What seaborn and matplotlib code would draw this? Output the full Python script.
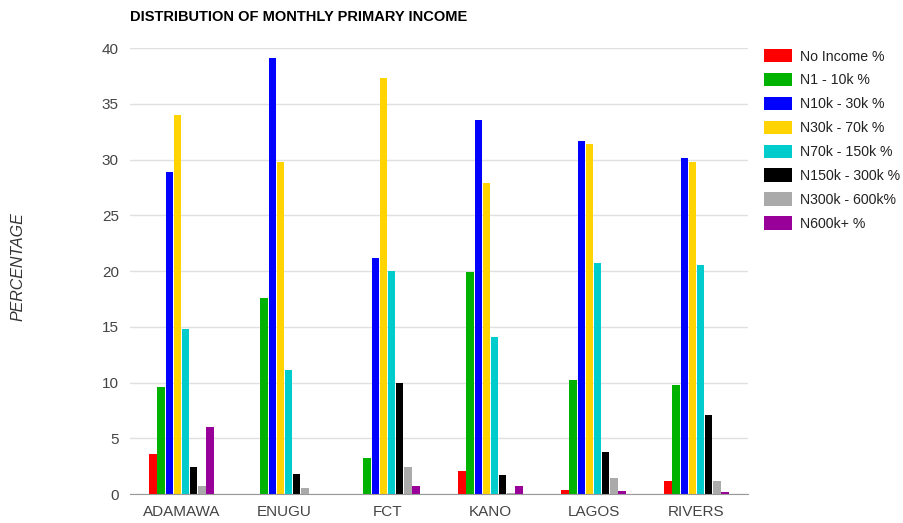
import pandas as pd
import matplotlib.pyplot as plt
import seaborn as sns

# data
states = ['ADAMAWA', 'ENUGU', 'FCT', 'KANO', 'LAGOS', 'RIVERS']
bands = ['No Income %', 'N1 - 10k %', 'N10k - 30k %', 'N30k - 70k %',
         'N70k - 150k %', 'N150k - 300k %', 'N300k - 600k%', 'N600k+ %']
no_income = [3.6, 0.0, 0.0, 2.1, 0.4, 1.2]
n1_10k = [9.6, 17.6, 3.2, 19.9, 10.2, 9.8]
n10_30k = [28.9, 39.1, 21.2, 33.5, 31.7, 30.1]
n30_70k = [34.0, 29.8, 37.3, 27.9, 31.4, 29.8]
n70_150k = [14.8, 11.1, 20.0, 14.1, 20.7, 20.5]
n150_300k = [2.4, 1.8, 10.0, 1.7, 3.8, 7.1]
n300_600k = [0.7, 0.5, 2.4, 0.1, 1.4, 1.2]
n600k = [6.0, 0.0, 0.7, 0.7, 0.3, 0.15]
colors = ['#ff0000', '#00b200', '#0000ff', '#ffd400',
          '#00cccc', '#000000', '#aaaaaa', '#990099']

series = [no_income, n1_10k, n10_30k, n30_70k, n70_150k, n150_300k, n300_600k, n600k]
rows = []
for band, vals in zip(bands, series):
    for st, v in zip(states, vals):
        rows.append({'State': st, 'Band': band, 'Value': v})
df = pd.DataFrame(rows)

sns.set_style('white')
plt.rcParams['font.family'] = ['Liberation Sans', 'DejaVu Sans']

fig = plt.figure(figsize=(9.04, 5.23), dpi=100, facecolor='white')
ax = fig.add_axes([130 / 904, 0.0554, 618 / 904, 0.8528])

sns.barplot(data=df, x='State', y='Value', hue='Band', hue_order=bands,
            order=states, palette=colors, width=0.63, gap=0.06,
            saturation=1, edgecolor='none', ax=ax, legend=True)

ax.set_ylim(0, 40)
ax.set_yticks(range(0, 41, 5))
ax.set_xlim(-0.5, len(states) - 0.5)
ax.grid(axis='y', color='#e0e0e0', linewidth=1)
ax.set_axisbelow(True)
for s in ['top', 'right', 'left']:
    ax.spines[s].set_visible(False)
ax.spines['bottom'].set_color('#999999')
ax.tick_params(axis='both', length=0, labelsize=11, colors='#444444', pad=8)
ax.tick_params(axis='x', pad=8)
ax.set_xlabel('')
ax.set_ylabel('')

fig.text(0.02, 0.49, 'PERCENTAGE', rotation=90, style='italic', fontsize=11.5,
         color='#333333', ha='center', va='center')
fig.text(130 / 904, 1 - 17 / 523, 'DISTRIBUTION OF MONTHLY PRIMARY INCOME', fontsize=10.5,
         fontweight='bold', color='black', ha='left', va='center')

handles, labels = ax.get_legend_handles_labels()
ax.get_legend().remove()
fig.legend(handles, labels, loc='upper left', bbox_to_anchor=(764 / 904, 1 - 49 / 523),
           frameon=False, fontsize=10.2, handlelength=2.0, handleheight=1.08,
           handletextpad=0.55, labelspacing=0.66, borderpad=0, borderaxespad=0,
           labelcolor='#222222')

plt.savefig('out.png', dpi=100, facecolor='white')
